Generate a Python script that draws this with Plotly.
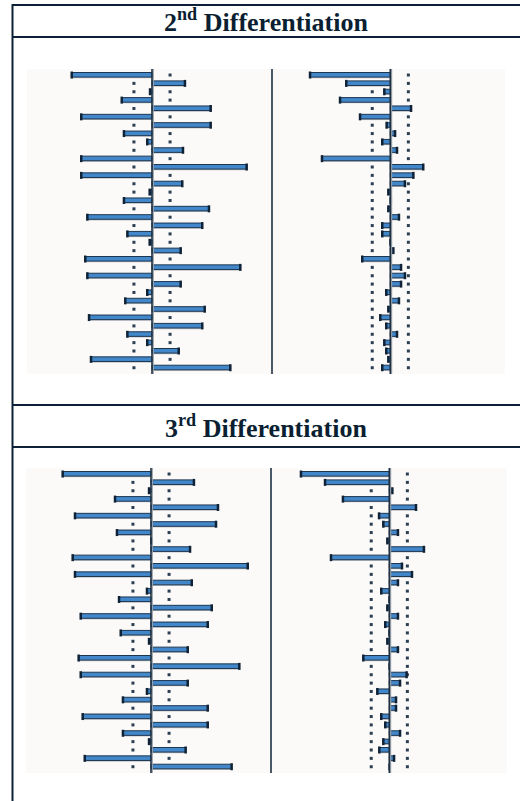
import plotly.graph_objects as go

# ---------------- data ----------------
lags = list(range(1, 37))

acf_d2 = [-0.658, 0.270, -0.016, -0.248, 0.481, -0.580, 0.481, -0.230, -0.039, 0.254,
          -0.580, 0.776, -0.580, 0.248, -0.019, -0.230, 0.467, -0.530, 0.412, -0.202,
          -0.019, 0.235, -0.547, 0.724, -0.530, 0.235, -0.039, -0.219, 0.432, -0.516,
          0.412, -0.202, -0.039, 0.219, -0.500, 0.642]
pacf_d2 = [-0.658, -0.361, -0.049, -0.412, 0.170, -0.248, -0.030, 0.039, -0.066, 0.055,
           -0.560, 0.270, 0.189, 0.120, -0.016, 0.004, -0.016, 0.071, -0.066, -0.066,
           0.002, 0.025, -0.230, 0.088, 0.120, 0.088, -0.033, 0.071, -0.016, -0.082,
           -0.033, 0.055, -0.049, -0.033, -0.016, -0.066]
acf_d3 = [-0.724, 0.352, -0.016, -0.295, 0.549, -0.623, 0.533, -0.279, 0.003, 0.320,
          -0.642, 0.793, -0.623, 0.334, -0.033, -0.262, 0.498, -0.576, 0.465, -0.248,
          -0.016, 0.301, -0.593, 0.724, -0.576, 0.301, -0.033, -0.230, 0.465, -0.560,
          0.465, -0.230, -0.016, 0.284, -0.543, 0.661]
pacf_d3 = [-0.724, -0.527, 0.025, -0.380, 0.219, -0.084, -0.049, 0.071, -0.016, 0.284,
           -0.478, 0.104, 0.186, 0.071, -0.066, 0.002, -0.016, 0.071, -0.033, 0.002,
           -0.016, 0.071, -0.213, 0.003, 0.142, 0.088, -0.098, 0.055, 0.055, -0.066,
           -0.033, 0.088, -0.049, -0.082, 0.039, 0.003]
conf_d2 = 0.148
conf_d3 = 0.148
titles = ["2<sup>nd</sup> Differentiation", "3<sup>rd</sup> Differentiation"]

# ---------------- layout helpers ----------------
W, H = 520, 801
SCALE = 122.0  # px per correlation unit


def fx(px):
    return px / W


def fy(py):
    return 1 - py / H


BAR_FILL = "#4287c9"
BAR_EDGE = "#1d3650"
CAP = "#0f2236"
DOT = "#2b3e52"
LINE = "#0d2236"
BG = "#fbfaf9"

fig = go.Figure()

# panel geometry in pixels
panels = [
    (acf_d2, pacf_d2, conf_d2, 69, 374, 27, 272, 505, 152, 390.3),
    (acf_d3, pacf_d3, conf_d3, 468, 773, 26, 271, 507, 151, 389.3),
]

layout_axes = {}
shapes = []
ax = 0
for (acf, pacf, conf, top, bot, xl, xs, xr, z0l, z0r) in panels:
    for vals, x0, x1, zp in ((acf, xl, xs, z0l), (pacf, xs, xr, z0r)):
        ax += 1
        xa = "x" if ax == 1 else f"x{ax}"
        ya = "y" if ax == 1 else f"y{ax}"
        xkey = "xaxis" if ax == 1 else f"xaxis{ax}"
        ykey = "yaxis" if ax == 1 else f"yaxis{ax}"
        layout_axes[xkey] = dict(domain=[fx(x0), fx(x1)],
                                 range=[(x0 - zp) / SCALE, (x1 - zp) / SCALE],
                                 visible=False, fixedrange=True, anchor=ya)
        layout_axes[ykey] = dict(domain=[fy(bot), fy(top)], range=[36.75, 0.28],
                                 visible=False, fixedrange=True, anchor=xa)
        # background
        shapes.append(dict(type="rect", xref=f"{xa} domain", yref=f"{ya} domain",
                           x0=0, x1=1, y0=0, y1=1, fillcolor=BG, line=dict(width=0),
                           layer="below"))
        # shadow bars
        fig.add_trace(go.Bar(x=vals, y=lags, orientation="h", width=0.55, offset=-0.16,
                             marker=dict(color="rgba(150,155,160,0.55)", line=dict(width=0)),
                             xaxis=xa, yaxis=ya, hoverinfo="skip", showlegend=False))
        # bars
        fig.add_trace(go.Bar(x=vals, y=lags, orientation="h", width=0.55, offset=-0.3,
                             marker=dict(color=BAR_FILL, line=dict(color=BAR_EDGE, width=1)),
                             xaxis=xa, yaxis=ya, showlegend=False))
        # confidence dots (hidden where a bar covers them)
        dx, dy = [], []
        for v, lag in zip(vals, lags):
            if v < conf:
                dx.append(conf)
                dy.append(lag)
            if v > -conf:
                dx.append(-conf)
                dy.append(lag)
        fig.add_trace(go.Scatter(x=dx, y=dy, mode="markers",
                                 marker=dict(symbol="square", size=3, color=DOT, line=dict(width=0)),
                                 xaxis=xa, yaxis=ya, hoverinfo="skip", showlegend=False))
        # end caps
        fig.add_trace(go.Scatter(x=vals, y=lags, mode="markers",
                                 marker=dict(symbol="line-ns", size=5,
                                             line=dict(color=CAP, width=2.5)),
                                 xaxis=xa, yaxis=ya, hoverinfo="skip", showlegend=False))
        # zero line (with light shadow)
        shapes.append(dict(type="line", xref=xa, yref=f"{ya} domain", xsizemode="pixel",
                           xanchor=0, x0=1.3, x1=1.3, y0=0, y1=1,
                           line=dict(color="#9aa2aa", width=1.2), layer="above"))
        shapes.append(dict(type="line", xref=xa, yref=f"{ya} domain", x0=0, x1=0, y0=0, y1=1,
                           line=dict(color="#1e3042", width=1.6), layer="above"))
    # separator between ACF and PACF
    shapes.append(dict(type="line", xref="paper", yref="paper", x0=fx(xs), x1=fx(xs),
                       y0=fy(bot), y1=fy(top), line=dict(color="#1e3042", width=1.6),
                       layer="above"))

# table borders
for py in (5, 37, 405, 447):
    shapes.append(dict(type="line", xref="paper", yref="paper", x0=fx(12), x1=1,
                       y0=fy(py), y1=fy(py), line=dict(color=LINE, width=2)))
shapes.append(dict(type="line", xref="paper", yref="paper", x0=fx(12.5), x1=fx(12.5),
                   y0=fy(4), y1=0, line=dict(color=LINE, width=2)))

annotations = []
for t, py in zip(titles, (21, 426)):
    annotations.append(dict(text=f"<b>{t}</b>", xref="paper", yref="paper", x=fx(266), y=fy(py),
                            xanchor="center", yanchor="middle", showarrow=False,
                            font=dict(family="Liberation Serif", size=26, color="#0b1f33")))

fig.update_layout(width=W, height=H, margin=dict(l=0, r=0, t=0, b=0),
                  paper_bgcolor="white", plot_bgcolor="rgba(0,0,0,0)",
                  barmode="overlay", showlegend=False, shapes=shapes,
                  annotations=annotations, **layout_axes)

fig.write_html("out.html", config={"displayModeBar": False},
               post_script="document.body.style.margin='0';document.body.style.overflow='hidden';")
